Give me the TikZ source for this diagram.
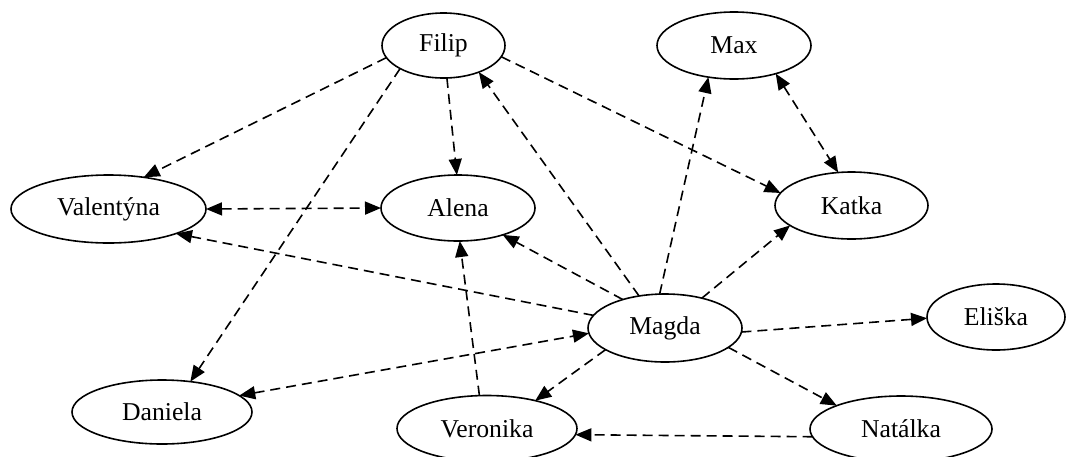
\documentclass[tikz,border=0pt]{standalone}
\usepackage{fontspec}
\setmainfont{Liberation Serif}
\usetikzlibrary{shapes.geometric,arrows.meta}
\begin{document}
\begin{tikzpicture}[x=1pt,y=-1pt,
  person/.style={ellipse,draw,line width=1.6pt,inner sep=0pt,outer sep=0pt,
    font=\fontsize{25.7}{30}\selectfont},
  link/.style={line width=1.6pt,dash pattern=on 10pt off 6pt,
    -{Triangle[length=16pt,width=13pt]}},
  dlink/.style={line width=1.6pt,dash pattern=on 10pt off 6pt,
    {Triangle[length=16pt,width=13pt]}-{Triangle[length=16pt,width=13pt]}}]
\useasboundingbox (0,0) rectangle (1067,456);
\node[person,minimum width=123pt,minimum height=65pt] (filip) at (443.5,45.5) {Filip};
\node[person,minimum width=154pt,minimum height=67pt] (max) at (734,45.5) {Max};
\node[person,minimum width=195pt,minimum height=68pt] (valentyna) at (108.5,209) {Valentýna};
\node[person,minimum width=154pt,minimum height=66pt] (alena) at (458,208) {Alena};
\node[person,minimum width=153pt,minimum height=67pt] (katka) at (851.5,205.5) {Katka};
\node[person,minimum width=154pt,minimum height=68pt] (magda) at (665,328) {Magda};
\node[person,minimum width=138pt,minimum height=66pt] (eliska) at (996,317) {Eliška};
\node[person,minimum width=180pt,minimum height=64pt] (daniela) at (162,412) {Daniela};
\node[person,minimum width=180pt,minimum height=66pt] (veronika) at (487,428.5) {Veronika};
\node[person,minimum width=182pt,minimum height=66pt] (natalka) at (901,429) {Natálka};

\draw[link] (filip.192) -- (valentyna.42);
\draw[link] (filip.208) -- (daniela.47.7);
\draw[link] (filip.276) -- (alena.92);
\draw[link] (magda.129) -- (filip.323);
\draw[link] (filip.349) -- (katka.170);
\draw[link] (magda.99.7) -- (max.231);
\draw[dlink] (max.326) -- (katka.112);
\draw[dlink] (valentyna.0) -- (alena.180);
\draw[link] (magda.170) -- (valentyna.340);
\draw[link] (magda.146) -- (alena.329);
\draw[link] (magda.39) -- (katka.198.7);
\draw[link] (veronika.103) -- (alena.273);
\draw[dlink] (daniela.12) -- (magda.184);
\draw[link] (magda.357) -- (eliska.181);
\draw[link] (magda.200.8) -- (veronika.30.4);
\draw[link] (magda.343) -- (natalka.160);
\draw[link] (natalka.185) -- (veronika.356);
\end{tikzpicture}
\end{document}
